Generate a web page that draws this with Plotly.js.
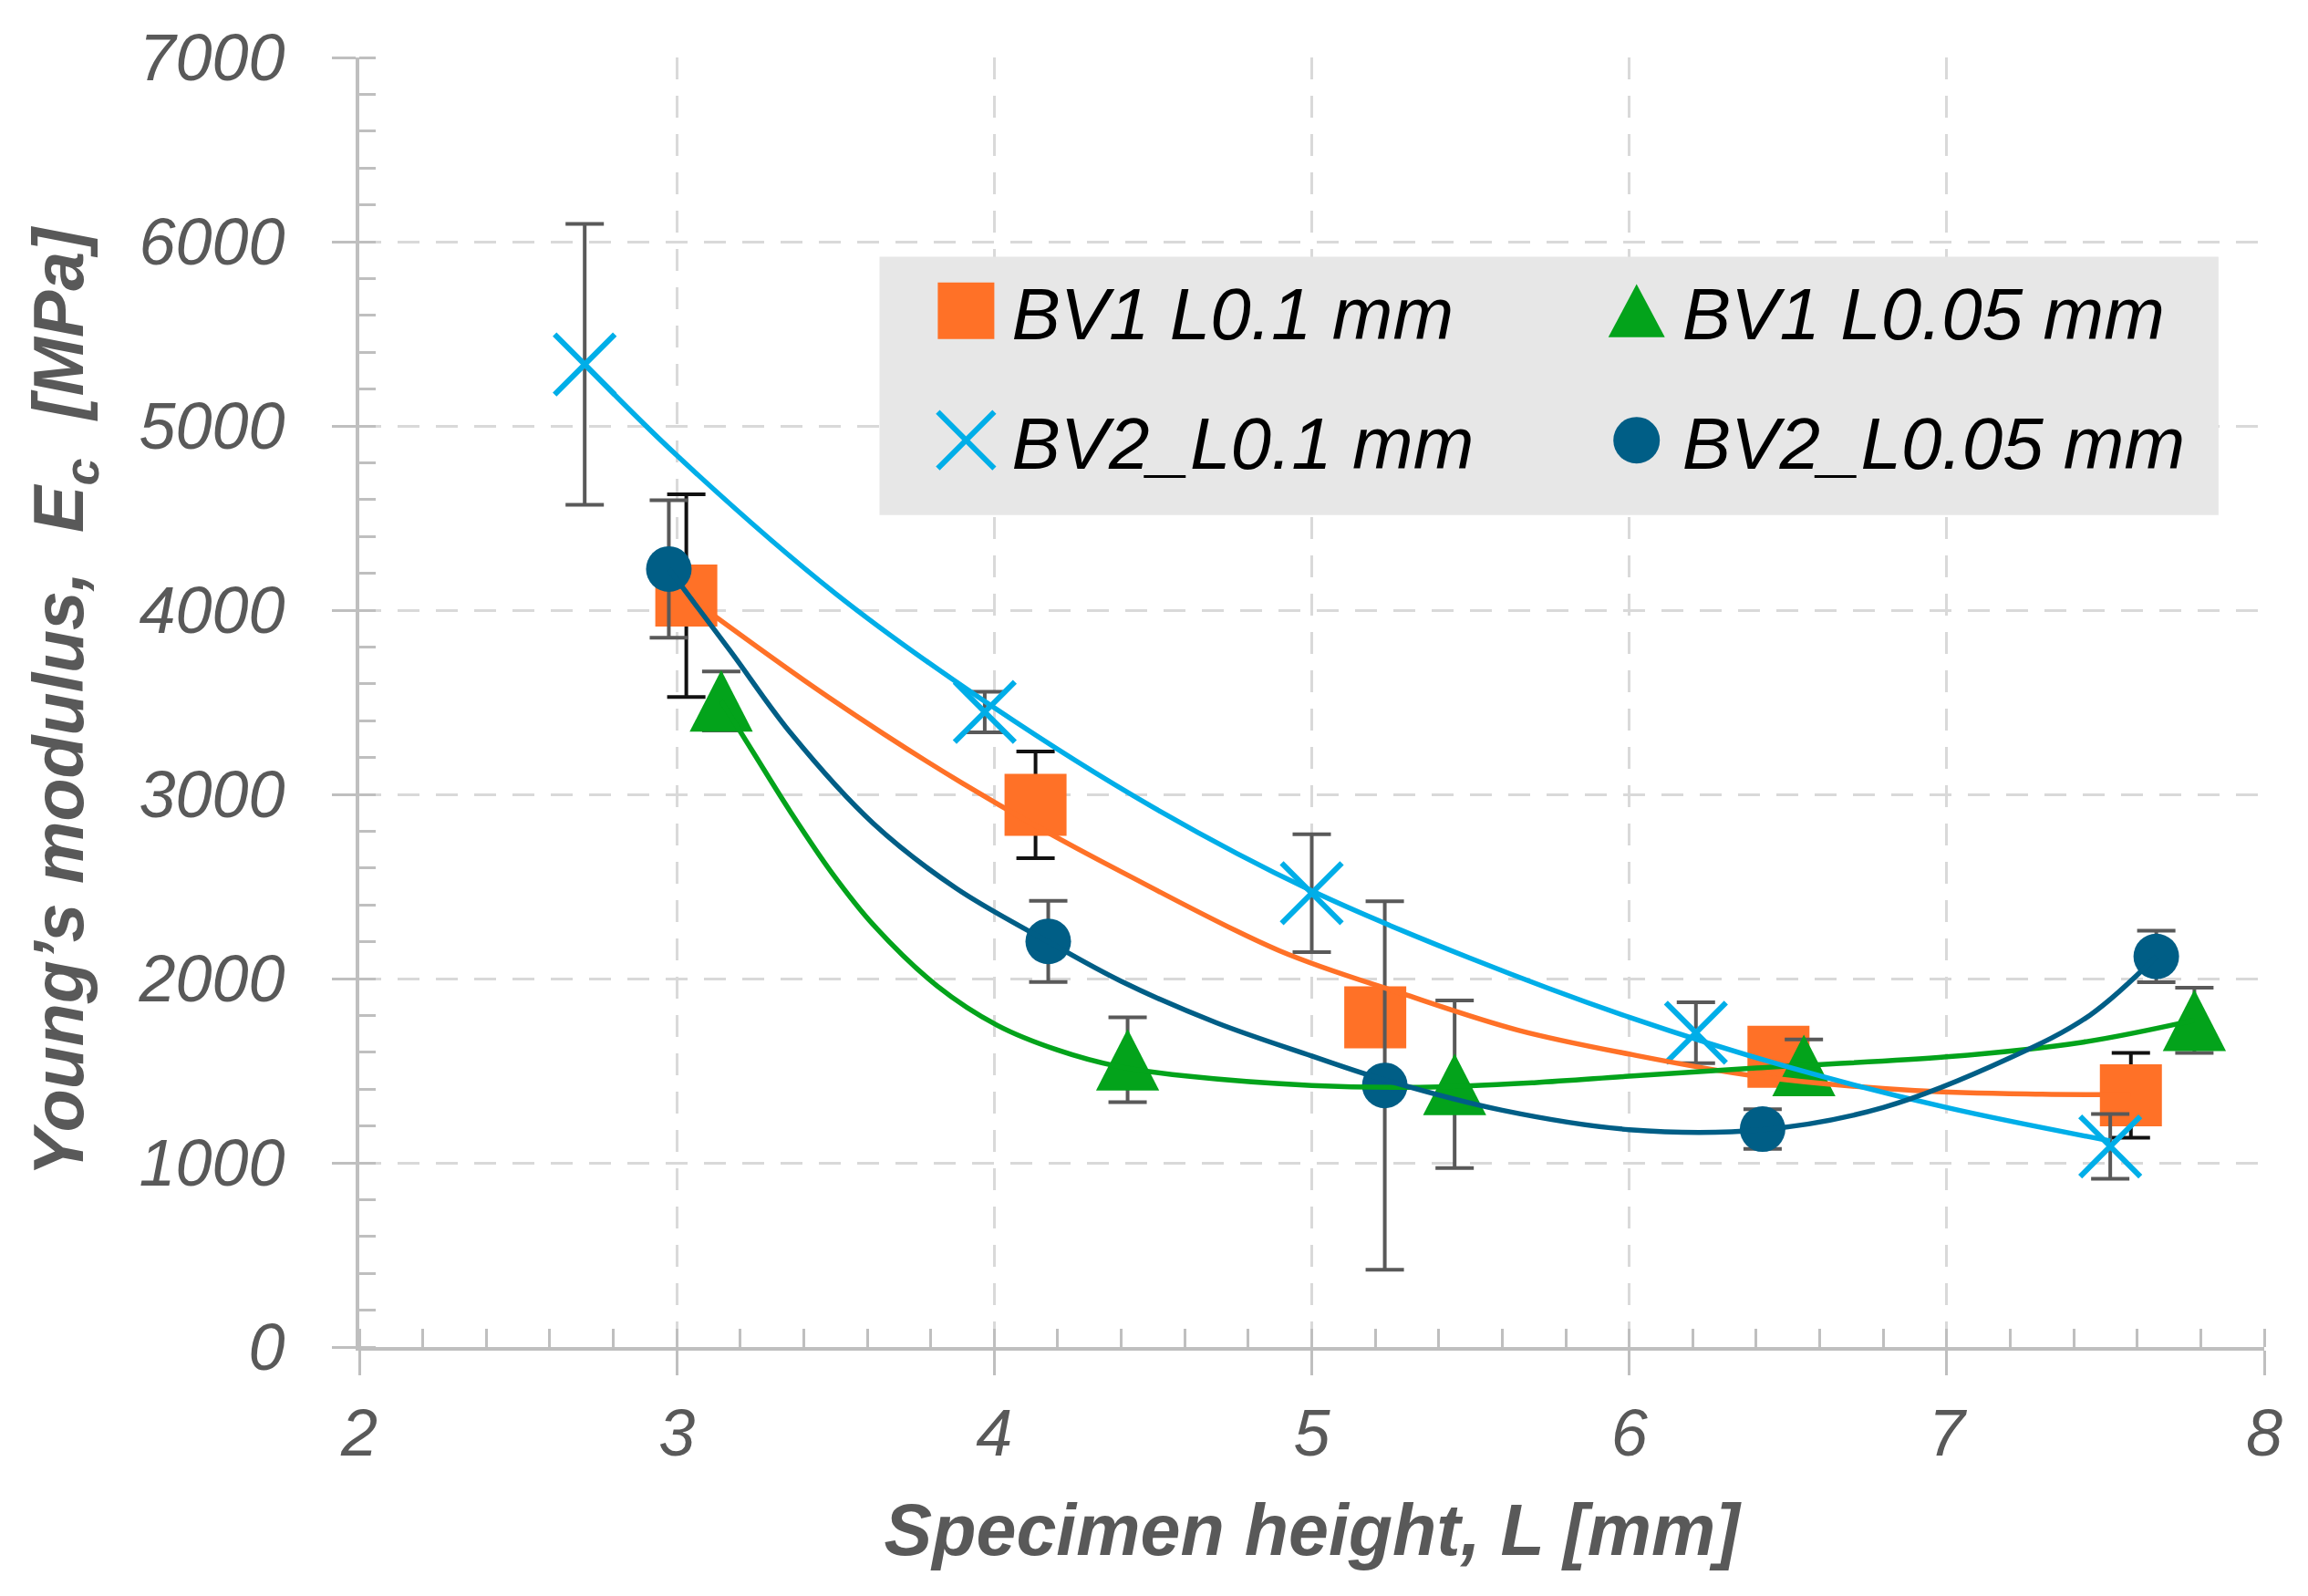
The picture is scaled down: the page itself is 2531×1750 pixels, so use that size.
<!DOCTYPE html>
<html>
<head>
<meta charset="utf-8">
<script src="https://cdn.plot.ly/plotly-3.0.1.min.js"></script>
<style>html,body{margin:0;padding:0;background:#fff;}#chart{width:2531px;height:1750px;}</style>
</head>
<body>
<div id="chart"></div>
<script>
// ---- data ----
const seriesNames = ['BV1 L0.1 mm', 'BV1 L0.05 mm', 'BV2_L0.1 mm', 'BV2_L0.05 mm'];

const bv1L01X = [3.03, 4.13, 5.20, 6.47, 7.58];
const bv1L01Y = [4079, 2943, 1789, 1576, 1366];
const bv1L01Err = [550, 290, 120, 100, 230];

const bv1L005X = [3.14, 4.42, 5.45, 6.55, 7.78];
const bv1L005Y = [3507, 1559, 1426, 1529, 1774];
const bv1L005Err = [160, 230, 455, 140, 177];

const bv2L01X = [2.71, 3.97, 5.00, 6.21, 7.515];
const bv2L01Y = [5334, 3447, 2464, 1706, 1089];
const bv2L01Err = [762, 110, 320, 165, 176];

const bv2L005X = [2.975, 4.17, 5.23, 6.42, 7.66];
const bv2L005Y = [4223, 2202, 1420, 1183, 2120];
const bv2L005Err = [373, 220, 1000, 108, 140];

// trend lines
const trendBv1L01X = [3.03, 3.4, 3.65, 3.9, 4.13, 4.4, 4.9, 5.3, 5.65, 6.0, 6.4, 6.9, 7.3, 7.58];
const trendBv1L01Y = [4080, 3620, 3330, 3060, 2830, 2580, 2150, 1910, 1720, 1590, 1470, 1392, 1372, 1370];

const trendBv1L005X = [3.14, 3.24, 3.36, 3.49, 3.62, 3.82, 4.01, 4.2, 4.39, 4.61, 5.0, 5.34, 5.7, 6.0, 6.4, 7.0, 7.43, 7.78];
const trendBv1L005Y = [3507, 3230, 2900, 2570, 2290, 1960, 1746, 1612, 1523, 1470, 1420, 1410, 1435, 1470, 1515, 1575, 1655, 1774];

const trendBv2L01X = [2.71, 3.0, 3.5, 4.0, 4.5, 5.0, 5.5, 6.0, 6.5, 7.0, 7.515];
const trendBv2L01Y = [5334, 4840, 4090, 3470, 2930, 2476, 2110, 1790, 1520, 1300, 1119];

const trendBv2L005X = [2.975, 3.17, 3.36, 3.62, 3.88, 4.17, 4.4, 4.7, 5.0, 5.23, 5.6, 6.0, 6.42, 6.8, 7.2, 7.45, 7.66];
const trendBv2L005Y = [4223, 3775, 3330, 2840, 2490, 2200, 1985, 1760, 1580, 1450, 1285, 1180, 1180, 1300, 1570, 1800, 2120];

const xTickVals = [2, 3, 4, 5, 6, 7, 8];
const yTickVals = [0, 1000, 2000, 3000, 4000, 5000, 6000, 7000];

// ---- styles ----
const cOrange = '#ff7127', cGreen = '#03a31b', cCyan = '#00aee8', cDark = '#005e86';
const errGrey = '#595959';
const sans = '"Liberation Sans", Arial, sans-serif';

function errBar(arr, color) {
  return {type: 'data', array: arr, visible: true, color: color, thickness: 4, width: 21};
}

const triSize = 60, triStretch = 1.5;

const traces = [
  {x: bv1L01X, y: bv1L01Y, name: seriesNames[0], type: 'scatter', mode: 'markers',
   legend: 'legend', legendgroup: 'a',
   marker: {symbol: 'square', size: 68, color: cOrange},
   error_y: errBar(bv1L01Err, '#111111')},
  {x: bv1L005X, y: bv1L005Y, name: seriesNames[1], type: 'scatter', mode: 'markers',
   legend: 'legend2', legendgroup: 'b',
   marker: {symbol: 'triangle-up', size: triSize, color: cGreen},
   error_y: errBar(bv1L005Err, errGrey)},
  {x: bv2L01X, y: bv2L01Y, name: seriesNames[2], type: 'scatter', mode: 'markers',
   legend: 'legend', legendgroup: 'c',
   marker: {symbol: 'x-thin-open', size: 66, color: cCyan, line: {color: cCyan, width: 6}},
   error_y: errBar(bv2L01Err, errGrey)},
  {x: bv2L005X, y: bv2L005Y, name: seriesNames[3], type: 'scatter', mode: 'markers',
   legend: 'legend2', legendgroup: 'd',
   marker: {symbol: 'circle', size: 50, color: cDark},
   error_y: errBar(bv2L005Err, errGrey)},
  {x: trendBv1L01X, y: trendBv1L01Y, type: 'scatter', mode: 'lines', showlegend: false, hoverinfo: 'skip',
   line: {color: cOrange, width: 5.5, shape: 'spline', smoothing: 1}},
  {x: trendBv1L005X, y: trendBv1L005Y, type: 'scatter', mode: 'lines', showlegend: false, hoverinfo: 'skip',
   line: {color: cGreen, width: 5.5, shape: 'spline', smoothing: 1}},
  {x: trendBv2L01X, y: trendBv2L01Y, type: 'scatter', mode: 'lines', showlegend: false, hoverinfo: 'skip',
   line: {color: cCyan, width: 5.5, shape: 'spline', smoothing: 1}},
  {x: trendBv2L005X, y: trendBv2L005Y, type: 'scatter', mode: 'lines', showlegend: false, hoverinfo: 'skip',
   line: {color: cDark, width: 5.5, shape: 'spline', smoothing: 1}}
];

const legendFont = {family: sans, size: 80, color: '#000000', style: 'italic'};

const layout = {
  width: 2531, height: 1750,
  margin: {l: 394, r: 48, t: 63, b: 273},
  paper_bgcolor: '#ffffff', plot_bgcolor: '#ffffff',
  showlegend: true,
  xaxis: {
    range: [2, 8], tickvals: xTickVals, ticktext: xTickVals.map(String),
    showline: true, linecolor: '#bfbfbf', linewidth: 4,
    ticks: 'outside', ticklen: 27, tickwidth: 3, tickcolor: '#bfbfbf',
    minor: {dtick: 0.2, ticks: 'inside', ticklen: 20, tickwidth: 3, tickcolor: '#bfbfbf', showgrid: false},
    showgrid: true, gridcolor: '#d9d9d9', gridwidth: 3, griddash: '24px,18px',
    zeroline: false,
    tickfont: {family: sans, size: 72, color: '#595959', style: 'italic'},
    ticklabelstandoff: 2,
    title: {text: 'Specimen height, L [mm]', standoff: 40,
            font: {family: sans, size: 79, color: '#595959', weight: 'bold', style: 'italic'}}
  },
  yaxis: {
    range: [0, 7000], tickvals: yTickVals, ticktext: yTickVals.map(String),
    showline: true, linecolor: '#bfbfbf', linewidth: 4,
    ticks: 'outside', ticklen: 26, tickwidth: 3, tickcolor: '#bfbfbf',
    minor: {dtick: 200, ticks: 'inside', ticklen: 18, tickwidth: 3, tickcolor: '#bfbfbf', showgrid: false},
    showgrid: true, gridcolor: '#d9d9d9', gridwidth: 3, griddash: '24px,18px',
    zeroline: false,
    tickfont: {family: sans, size: 72, color: '#595959', style: 'italic'},
    ticklabelstandoff: 37,
    title: {text: 'Young\u2019s modulus,\u00a0 <i>E</i><sub>c</sub>\u00a0 [MPa]', standoff: 35,
            font: {family: sans, size: 77, color: '#595959', weight: 'bold', style: 'italic'}}
  },
  legend: {
    x: 0.2898, y: 0.845, xanchor: 'left', yanchor: 'top', orientation: 'v',
    bgcolor: 'rgba(0,0,0,0)', borderwidth: 0, font: legendFont, itemwidth: 100,
    traceorder: 'grouped', tracegroupgap: 35, itemsizing: 'trace'
  },
  legend2: {
    x: 0.6418, y: 0.845, xanchor: 'left', yanchor: 'top', orientation: 'v',
    bgcolor: 'rgba(0,0,0,0)', borderwidth: 0, font: legendFont, itemwidth: 100,
    traceorder: 'grouped', tracegroupgap: 35, itemsizing: 'trace'
  },
  shapes: [
    {type: 'rect', xref: 'paper', yref: 'paper', x0: 0.2731, x1: 0.976, y0: 0.6451, y1: 0.8454,
     fillcolor: '#e7e7e7', line: {width: 0}, layer: 'above'}
  ]
};

// legend symbol widths in the reference (px)
const legendSymbolWidth = {'BV1 L0.1 mm': 62, 'BV1 L0.05 mm': 62, 'BV2_L0.1 mm': 62, 'BV2_L0.05 mm': 51};

function adjustMarks(gd) {
  // taller (Excel-like) triangles, still centred on their data point
  const triTrace = gd.querySelectorAll('.scatterlayer .trace')[1];
  if (triTrace) {
    const r = triSize / 2;
    triTrace.querySelectorAll('path.point').forEach(function (p) {
      if (p.getAttribute('data-stretched')) return;
      const t = p.getAttribute('transform') || '';
      p.setAttribute('transform', t + ' translate(0,' + (r * triStretch / 4) + ') scale(1,' + triStretch + ')');
      p.setAttribute('data-stretched', '1');
    });
  }
  // enlarge the legend symbols (Plotly caps them at 16px) and keep them 50px left of the text
  gd.querySelectorAll('g.traces').forEach(function (item) {
    const txt = item.querySelector('text');
    const pts = item.querySelectorAll('.legendpoints path');
    if (!txt || !pts.length) return;
    const name = (txt.textContent || '').trim();
    const textX = parseFloat(txt.getAttribute('x')) || 40;
    pts.forEach(function (p) {
      const bb = p.getBBox();
      if (!bb.width) return;
      const w = legendSymbolWidth[name] || 60;
      const s = w / bb.width;
      const isTri = name === 'BV1 L0.05 mm';
      const sy = isTri ? s * 1.45 : s;
      const dy = isTri ? -(bb.y + bb.height / 2) * sy : 0;
      p.setAttribute('transform', 'translate(' + (textX - 50) + ',' + dy + ') scale(' + s + ',' + sy + ')');
      const sw = parseFloat(p.style.strokeWidth) || 0;
      if (sw > 0 && !p.getAttribute('data-sw')) {
        p.style.strokeWidth = (6 / s) + 'px';
        p.setAttribute('data-sw', '1');
      }
    });
  });
}

Plotly.newPlot('chart', traces, layout, {displayModeBar: false, staticPlot: true}).then(function (gd) {
  adjustMarks(gd);
  gd.on('plotly_afterplot', function () { adjustMarks(gd); });
  requestAnimationFrame(function () { adjustMarks(gd); });
  setTimeout(function () { adjustMarks(gd); }, 50);
});
</script>
</body>
</html>
